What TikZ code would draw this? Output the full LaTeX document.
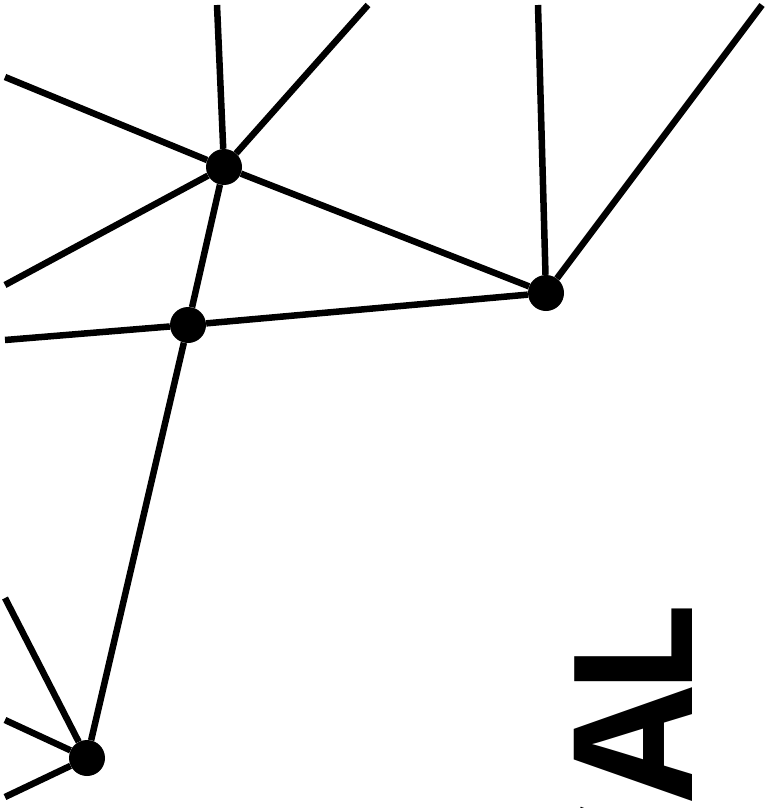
\documentclass[tikz,border=0pt]{standalone}
\usepackage{fontspec}
\newfontfamily\bannerfont{Open Sans}
\usepackage{tikz}

\begin{document}
\begin{tikzpicture}[x=1pt,y=-1pt,
  hub/.style={circle, fill=black, inner sep=0pt, minimum size=36pt},
  link/.style={black, line width=6.5pt},
  banner/.style={font=\bannerfont\bfseries\fontsize{165}{165}\selectfont, inner sep=0pt}]
  \useasboundingbox (0,0) rectangle (765,808);
  \clip (0,0) rectangle (765,808);
  % hubs
  \node[hub] (upper) at (224,167) {};
  \node[hub] (middle) at (188,325) {};
  \node[hub] (right) at (546,293) {};
  \node[hub] (lower) at (87,758) {};
  % loose ends at the border
  \coordinate (upperN) at (217,5);
  \coordinate (upperNE) at (368,5);
  \coordinate (upperW) at (5,77);
  \coordinate (upperSW) at (5,285);
  \coordinate (middleW) at (5,340);
  \coordinate (rightN) at (538,5);
  \coordinate (rightNE) at (762,5);
  \coordinate (lowerNW) at (5,598);
  \coordinate (lowerW) at (5,720);
  \coordinate (lowerSW) at (5,797);
  % links
  \draw[link] (upper) -- (upperN);
  \draw[link] (upper) -- (upperNE);
  \draw[link] (upper) -- (upperW);
  \draw[link] (upper) -- (upperSW);
  \draw[link] (upper) -- (right);
  \draw[link] (upper) -- (middle);
  \draw[link] (middle) -- (middleW);
  \draw[link] (middle) -- (right);
  \draw[link] (middle) -- (lower);
  \draw[link] (right) -- (rightN);
  \draw[link] (right) -- (rightNE);
  \draw[link] (lower) -- (lowerNW);
  \draw[link] (lower) -- (lowerW);
  \draw[link] (lower) -- (lowerSW);
  % title
  \node[banner, rotate=90, anchor=base east] (word) at (692,603) {CA\kern-9pt L};
\end{tikzpicture}
\end{document}
